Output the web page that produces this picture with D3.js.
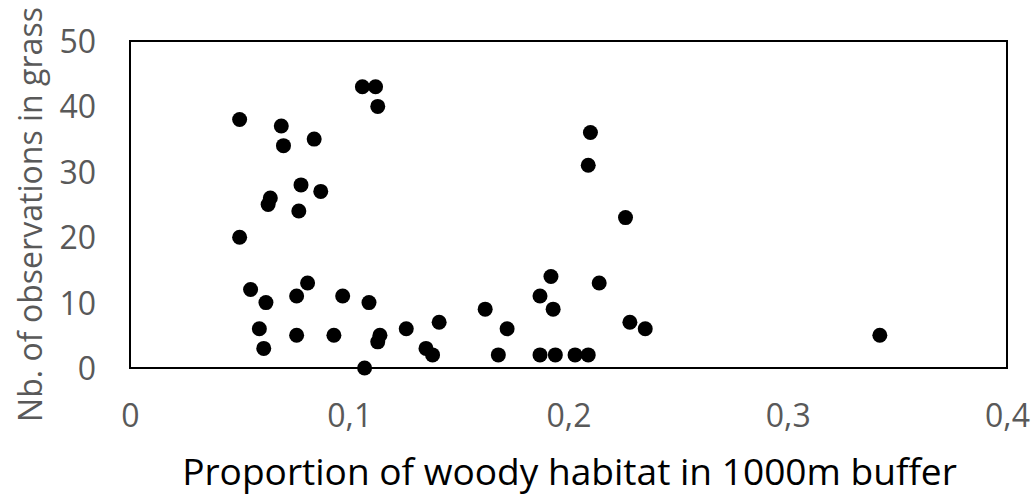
<!DOCTYPE html>
<html>
<head>
<meta charset="utf-8">
<script src="https://cdn.jsdelivr.net/npm/d3@7"></script>
<style>
  html, body { margin: 0; padding: 0; background: #fff; }
  svg { display: block; }
</style>
</head>
<body>
<svg id="chart" width="1033" height="495"></svg>
<script>
// Proportion of woody habitat (x) vs number of observations in grass (y)
const woody = [
  0.106, 0.112, 0.113, 0.050, 0.069, 0.070, 0.084, 0.078, 0.087, 0.064,
  0.063, 0.077, 0.050, 0.055, 0.062, 0.076, 0.081, 0.097, 0.109, 0.059,
  0.061, 0.076, 0.093, 0.114, 0.113, 0.126, 0.141, 0.135, 0.138, 0.107,
  0.162, 0.168, 0.210, 0.209, 0.226, 0.192, 0.214, 0.187, 0.193, 0.172,
  0.228, 0.235, 0.187, 0.194, 0.203, 0.209, 0.342
];
const observations = [
  43, 43, 40, 38, 37, 34, 35, 28, 27, 26,
  25, 24, 20, 12, 10, 11, 13, 11, 10, 6,
  3, 5, 5, 5, 4, 6, 7, 3, 2, 0,
  9, 2, 36, 31, 23, 14, 13, 11, 9, 6,
  7, 6, 2, 2, 2, 2, 5
];
const xTicks = [0, 0.1, 0.2, 0.3, 0.4];
const yTicks = [0, 10, 20, 30, 40, 50];
const xTitle = "Proportion of woody habitat in 1000m buffer";
const yTitle = "Nb. of observations in grass";

const points = woody.map((w, i) => ({ x: w, y: observations[i] }));

const svg = d3.select("#chart");
const font = "'Open Sans', 'Noto Sans', sans-serif";
const plot = { left: 130, right: 1007, top: 41, bottom: 368 };

const x = d3.scaleLinear().domain([0, 0.4]).range([plot.left, plot.right]);
const y = d3.scaleLinear().domain([0, 50]).range([plot.bottom, plot.top]);

const fmt = d => d === 0 ? "0" : d3.format(".1f")(d).replace(".", ",");

// Y axis labels (no line, no ticks)
const yAxis = d3.axisLeft(y).tickValues(yTicks).tickSize(0).tickPadding(34).tickFormat(d => d);
svg.append("g")
  .attr("transform", `translate(${plot.left},0)`)
  .call(yAxis)
  .call(g => g.select(".domain").remove())
  .call(g => g.selectAll("text")
    .attr("fill", "#595959")
    .attr("font-family", font)
    .attr("font-size", 32)
    .attr("dy", "0.357em"));

// X axis labels
const xAxis = d3.axisBottom(x).tickValues(xTicks).tickSize(0).tickPadding(59).tickFormat(fmt);
svg.append("g")
  .attr("transform", `translate(0,${plot.bottom})`)
  .call(xAxis)
  .call(g => g.select(".domain").remove())
  .call(g => g.selectAll("text")
    .attr("fill", "#595959")
    .attr("font-family", font)
    .attr("font-size", 32)
    .attr("dy", "0"));

// Plot area border
svg.append("rect")
  .attr("x", plot.left)
  .attr("y", plot.top)
  .attr("width", plot.right - plot.left)
  .attr("height", plot.bottom - plot.top)
  .attr("fill", "none")
  .attr("stroke", "#000")
  .attr("stroke-width", 2);

// Points
svg.append("g")
  .selectAll("circle")
  .data(points)
  .join("circle")
  .attr("cx", d => x(d.x))
  .attr("cy", d => y(d.y))
  .attr("r", 7.5)
  .attr("fill", "#000");

// Titles, sized to their spans
function fitText(sel, targetWidth) {
  const w = sel.node().getComputedTextLength();
  const fs = parseFloat(sel.attr("font-size"));
  sel.attr("font-size", fs * targetWidth / w);
}

const xt = svg.append("text")
  .attr("x", (182 + 957) / 2)
  .attr("y", 485)
  .attr("text-anchor", "middle")
  .attr("font-family", font)
  .attr("font-size", 32)
  .attr("fill", "#000")
  .text(xTitle);
fitText(xt, 775);

const yt = svg.append("text")
  .attr("transform", `translate(42,${(7 + 422) / 2}) rotate(-90)`)
  .attr("text-anchor", "middle")
  .attr("font-family", font)
  .attr("font-size", 30)
  .attr("fill", "#595959")
  .text(yTitle);
fitText(yt, 415);
</script>
</body>
</html>
